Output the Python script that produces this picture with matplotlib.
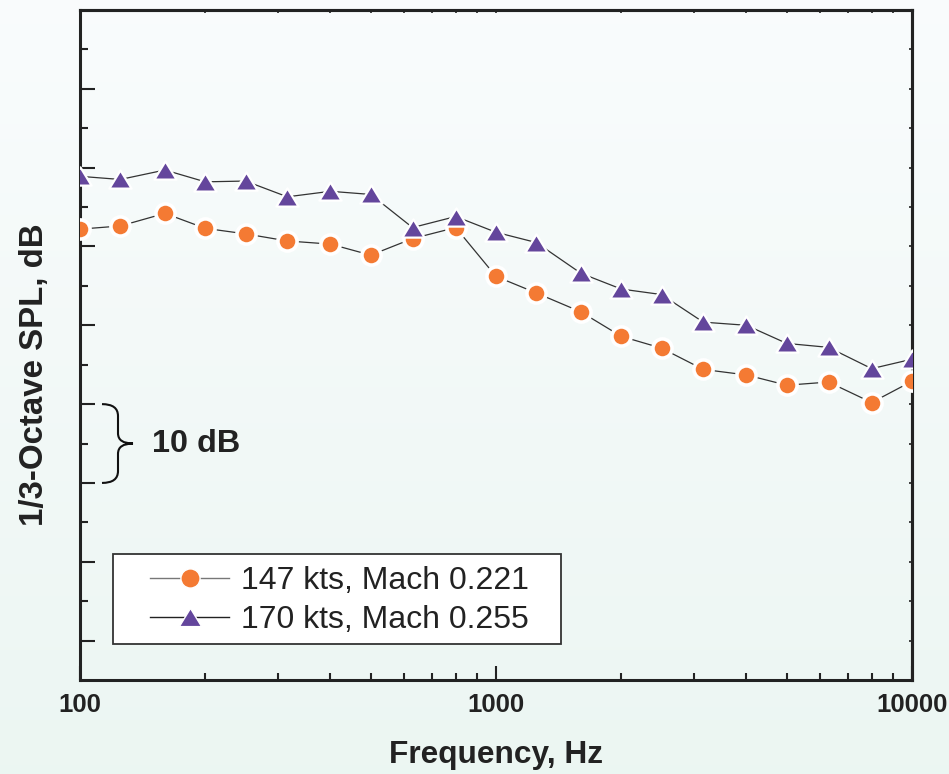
import matplotlib
matplotlib.use("Agg")
import matplotlib.pyplot as plt
import numpy as np
from matplotlib.path import Path
from matplotlib.patches import PathPatch, Rectangle
from matplotlib.lines import Line2D
import matplotlib.transforms as mtransforms

plt.rcParams["font.family"] = ["Liberation Sans", "DejaVu Sans"]

# 1/3-octave band centre frequencies (Hz)
freq = [100, 125, 160, 200, 250, 315, 400, 500, 630, 800, 1000,
        1250, 1600, 2000, 2500, 3150, 4000, 5000, 6300, 8000, 10000]
# SPL (dB, relative scale)
spl_147 = [102.2, 102.6, 104.2, 102.3, 101.6, 100.7, 100.3, 98.9, 101.0, 102.4, 96.2,
           94.1, 91.7, 88.6, 87.1, 84.4, 83.7, 82.4, 82.8, 80.2, 82.9]
spl_170 = [108.9, 108.5, 109.7, 108.2, 108.3, 106.3, 107.0, 106.6, 102.4, 103.8, 101.8,
           100.5, 96.6, 94.6, 93.9, 90.4, 90.0, 87.7, 87.2, 84.5, 85.7]
labels = ["147 kts, Mach 0.221", "170 kts, Mach 0.255"]
xtick_vals = [100, 1000, 10000]
xtick_labels = ["100", "1000", "10000"]

W, H = 949, 774
fig = plt.figure(figsize=(W / 100, H / 100), dpi=100)

# 背景渐变
bg = fig.add_axes([0, 0, 1, 1], zorder=-10)
top_c = np.array([0.978, 0.988, 0.992])
bot_c = np.array([0.925, 0.965, 0.950])
t = np.linspace(0, 1, 256)[:, None]
grad = top_c[None, :] * (1 - t) + bot_c[None, :] * t
bg.imshow(grad[:, None, :], aspect="auto", extent=[0, 1, 0, 1])
bg.axis("off")

ax = fig.add_axes([80 / W, (H - 680) / H, 832 / W, 670 / H])
ax.set_facecolor("none")

line_c = "#333333"
ax.plot(freq, spl_147, "-", color=line_c, lw=0.9, marker="o", ms=13.8,
        mfc="#f47a33", mec="white", mew=2.6, zorder=3)
tri = Path([(0, 0.82), (-1, -0.82), (1, -0.82), (0, 0.82)],
           [Path.MOVETO, Path.LINETO, Path.LINETO, Path.CLOSEPOLY])
ax.plot(freq, spl_170, "-", color=line_c, lw=0.9, marker=tri, ms=16,
        mfc="#64469c", mec="white", mew=1.6, zorder=4)

ax.set_xscale("log")
ax.set_xlim(100, 10000)
ax.set_ylim(45, 130)
ax.set_xticks(xtick_vals)
ax.set_xticklabels(xtick_labels, fontsize=18.5, fontweight="bold", color="#222222")
ax.set_yticks(np.arange(50, 130, 10))
ax.set_yticks(np.arange(55, 130, 10), minor=True)
ax.set_yticklabels([])
ax.tick_params(axis="both", which="both", direction="in", color="#222222", width=1.5)
ax.tick_params(axis="x", which="major", length=10, pad=9.5)
ax.tick_params(axis="x", which="minor", length=5, labelbottom=False)
ax.tick_params(axis="y", which="major", length=11)
ax.tick_params(axis="y", which="minor", length=6)
for s in ax.spines.values():
    s.set_linewidth(2.2)
    s.set_color("#222222")

# 上/右小刻度
secx = ax.secondary_xaxis("top")
secx.tick_params(which="both", direction="in", length=2.5, width=1.2, labeltop=False,
                 color="#222222")
secx.set_xticks(xtick_vals)
secx.set_xticklabels([])
secx.spines["top"].set_linewidth(2.2)
secy = ax.secondary_yaxis("right")
secy.set_yticks(np.arange(50, 130, 5))
secy.tick_params(which="both", direction="in", length=2.5, width=1.2, labelright=False,
                 color="#222222")
secy.spines["right"].set_linewidth(2.2)

ax.set_xlabel("Frequency, Hz", fontsize=22.8, fontweight="bold", color="#222222", va="center")
ax.xaxis.set_label_coords(0.5, (680 - 755) / 670)
ax.set_ylabel("1/3-Octave SPL, dB", fontsize=23.8, fontweight="bold", color="#222222", va="center")
ax.yaxis.set_label_coords((35 - 80) / 832, (680 - 375) / 670)

# 10 dB 括号
trans = mtransforms.blended_transform_factory(ax.transAxes, ax.transData)
x0, x1, x2 = 22 / 832, 38 / 832, 53 / 832
verts = [(x0, 80), (x1, 80), (x1, 78.5), (x1, 76.3), (x1, 75.0), (x2, 75.0),
         (x1, 75.0), (x1, 73.7), (x1, 71.5), (x1, 70), (x0, 70)]
codes = [Path.MOVETO, Path.CURVE3, Path.CURVE3, Path.LINETO, Path.CURVE3, Path.CURVE3,
         Path.CURVE3, Path.CURVE3, Path.LINETO, Path.CURVE3, Path.CURVE3]
ax.add_patch(PathPatch(Path(verts, codes), transform=trans, fill=False,
                       lw=1.5, color="#111111", clip_on=False))
ax.text(72 / 832, 75, "10 dB", transform=trans, fontsize=23.3, fontweight="bold",
        color="#222222", ha="left", va="center")

# 图例
ax.add_patch(Rectangle((33 / 832, 36 / 670), 448 / 832, 90 / 670, transform=ax.transAxes,
                       facecolor="white", edgecolor="#333333", lw=1.3, zorder=6))
handles = [
    Line2D([0], [0], color="#777777", lw=1.0, marker="o", ms=13.8, mfc="#f47a33",
           mec="white", mew=1.0),
    Line2D([0], [0], color="#222222", lw=1.0, marker=tri, ms=16, mfc="#64469c",
           mec="white", mew=1.0),
]
leg = ax.legend(handles, labels, loc="lower left", bbox_to_anchor=(60 / 832, 35 / 670),
                borderaxespad=0, frameon=False, fontsize=23, handlelength=2.5,
                handletextpad=0.35, labelspacing=0.3, borderpad=0.3)
leg.set_zorder(7)
for txt in leg.get_texts():
    txt.set_color("#222222")

fig.savefig("out.png", dpi=100, facecolor=fig.get_facecolor())
